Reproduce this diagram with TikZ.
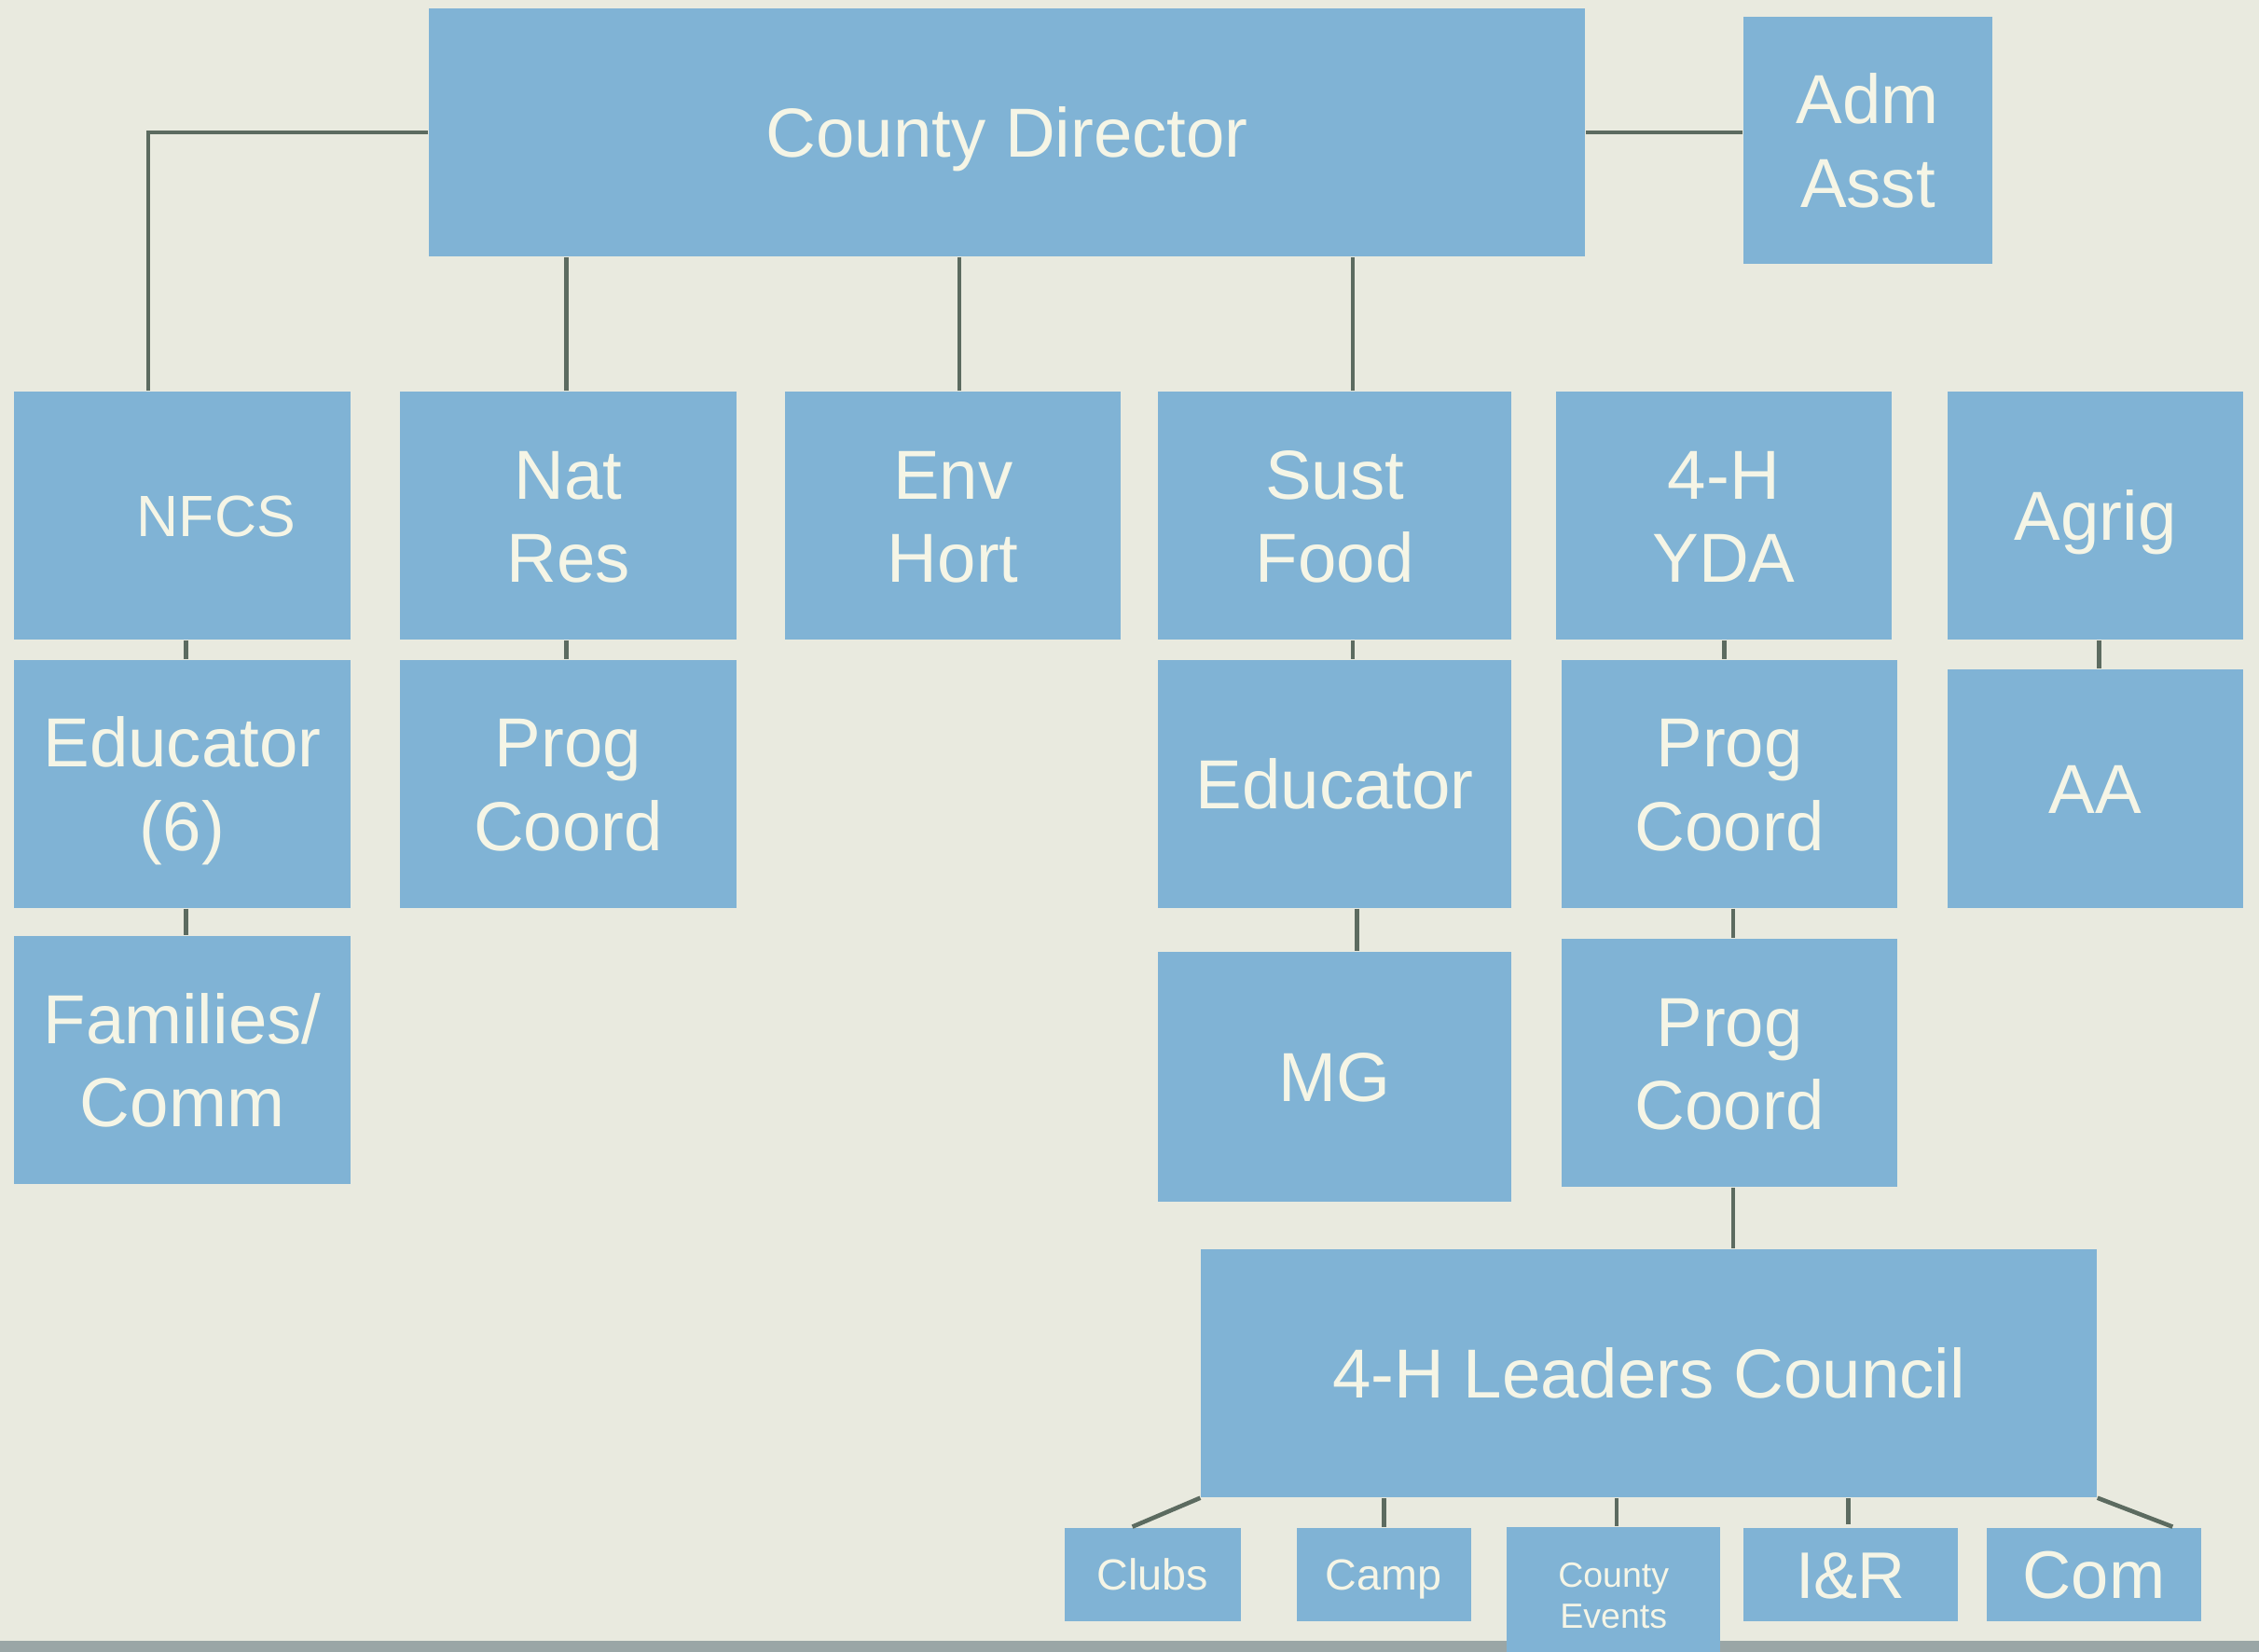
\documentclass[tikz,border=0pt]{standalone}
\usepackage{fontspec}
\setmainfont{Liberation Sans}
\definecolor{paper}{HTML}{E9EADF}
\definecolor{boxblue}{HTML}{80B3D5}
\definecolor{txt}{HTML}{F5F5E6}
\definecolor{conn}{HTML}{5C6B60}
\definecolor{band}{HTML}{9AA6A6}
\newcommand{\lstrut}{\rule[-0.22em]{0pt}{1.156em}}
\newcommand{\one}[1]{\lstrut #1}
\newcommand{\two}[2]{\lstrut #1\\\lstrut #2}
\tikzset{
  box/.style={rectangle, fill=boxblue, inner sep=0pt, text=txt, align=center,
    font=\fontsize{13.7}{16.5}\selectfont},
  smallbox/.style={box, font=\fontsize{8.6}{10}\selectfont},
  link/.style={draw=conn, line width=0.85pt},
}
\begin{document}
\begin{tikzpicture}[x=0.01cm,y=-0.01cm]
\fill[paper] (0,0) rectangle (1568,1146.7);
\useasboundingbox (0,0) rectangle (1568,1146.7);
\fill[band] (0,1139) rectangle (1568,1146.7);
% top
\node[box, minimum width=8.02cm, minimum height=1.72cm] (cd) at (699,92) {\one{County Director}};
\node[box, minimum width=1.73cm, minimum height=1.71cm] (adm) at (1296.5,97.5) {\two{Adm}{Asst}};
% row 1
\node[box, minimum width=2.33cm, minimum height=1.72cm] (nfcs) at (126.5,358) {};
\node[box, font=\fontsize{11.5}{14}\selectfont] (nfcst) at (150,358) {\one{NFCS}};
\node[box, minimum width=2.33cm, minimum height=1.72cm] (nr) at (394.5,358) {\two{Nat}{Res}};
\node[box, minimum width=2.33cm, minimum height=1.72cm] (eh) at (661.5,358) {\two{Env}{Hort}};
\node[box, minimum width=2.45cm, minimum height=1.72cm] (sf) at (926.5,358) {\two{Sust}{Food}};
\node[box, minimum width=2.33cm, minimum height=1.72cm] (yda) at (1196.5,358) {\two{4-H}{YDA}};
\node[box, minimum width=2.05cm, minimum height=1.72cm] (ag) at (1454.5,358) {\one{Agrig}};
% row 2
\node[box, minimum width=2.33cm, minimum height=1.72cm] (ed6) at (126.5,544) {\two{Educator}{(6)}};
\node[box, minimum width=2.33cm, minimum height=1.72cm] (pcnr) at (394.5,544) {\two{Prog}{Coord}};
\node[box, minimum width=2.45cm, minimum height=1.72cm] (edsf) at (926.5,544) {\one{Educator}};
\node[box, minimum width=2.33cm, minimum height=1.72cm] (pc1) at (1200.5,544) {\two{Prog}{Coord}};
\node[box, minimum width=2.05cm, minimum height=1.65cm] (aa) at (1454.5,547.5) {\one{AA}};
% row 3
\node[box, minimum width=2.33cm, minimum height=1.72cm] (fam) at (126.5,736) {\two{Families/}{Comm}};
\node[box, minimum width=2.45cm, minimum height=1.73cm] (mg) at (926.5,747.5) {\one{MG}};
\node[box, minimum width=2.33cm, minimum height=1.72cm] (pc2) at (1200.5,738) {\two{Prog}{Coord}};
% council
\node[box, minimum width=6.21cm, minimum height=1.72cm] (lc) at (1144.5,953) {\one{4-H Leaders Council}};
% bottom
\node[smallbox, minimum width=1.22cm, minimum height=0.65cm] (clubs) at (800,1093) {\one{Clubs}};
\node[smallbox, minimum width=1.21cm, minimum height=0.65cm] (camp) at (960.5,1093) {\one{Camp}};
\node[box, minimum width=1.48cm, minimum height=0.87cm] (ev) at (1120,1103.5) {};
\node[box, font=\fontsize{6.9}{8.1}\selectfont] (evt) at (1120,1107) {\two{County}{Events}};
\node[box, minimum width=1.49cm, minimum height=0.65cm, font=\fontsize{13}{15}\selectfont] (ir) at (1284.5,1093) {\one{I\&R}};
\node[box, minimum width=1.49cm, minimum height=0.65cm, font=\fontsize{13.3}{15}\selectfont] (com) at (1453.5,1093) {\one{Com}};
% connectors
\draw[link] (cd.east) -- (adm.west |- cd.east);
\draw[link] (cd.west) -| ([xshift=-0.235cm]nfcs.north);
\draw[link] ([xshift=-0.015cm]nr.north) -- ([xshift=-0.015cm]nr.north |- cd.south);
\draw[link] ([xshift=0.045cm]eh.north) -- ([xshift=0.045cm]eh.north |- cd.south);
\draw[link] ([xshift=0.125cm]sf.north) -- ([xshift=0.125cm]sf.north |- cd.south);
\draw[link] ([xshift=0.025cm]nfcs.south) -- ([xshift=0.025cm]ed6.north);
\draw[link] ([xshift=0.025cm]ed6.south) -- ([xshift=0.025cm]fam.north);
\draw[link] ([xshift=-0.015cm]nr.south) -- ([xshift=-0.015cm]pcnr.north);
\draw[link] ([xshift=0.125cm]sf.south) -- ([xshift=0.125cm]sf.south |- edsf.north);
\draw[link] ([xshift=0.155cm]edsf.south) -- ([xshift=0.155cm]mg.north);
\draw[link] ([xshift=0.005cm]yda.south) -- ([xshift=0.005cm]yda.south |- pc1.north);
\draw[link] ([xshift=0.025cm]pc1.south) -- ([xshift=0.025cm]pc2.north);
\draw[link] ([xshift=0.025cm]pc2.south) -- ([xshift=0.025cm]pc2.south |- lc.north);
\draw[link] ([xshift=0.025cm]ag.south) -- ([xshift=0.025cm]aa.north);
\draw[link] (lc.south west) -- ([xshift=-0.14cm]clubs.north);
\draw[link] (camp.north) -- (camp.north |- lc.south);
\draw[link] ([xshift=0.02cm]ev.north) -- ([xshift=0.02cm]ev.north |- lc.south);
\draw[link] ([xshift=-0.015cm,yshift=0.02cm]ir.north) -- ([xshift=-0.015cm]ir.north |- lc.south);
\draw[link] (lc.south east) -- ([xshift=0.545cm]com.north);
\end{tikzpicture}
\end{document}
